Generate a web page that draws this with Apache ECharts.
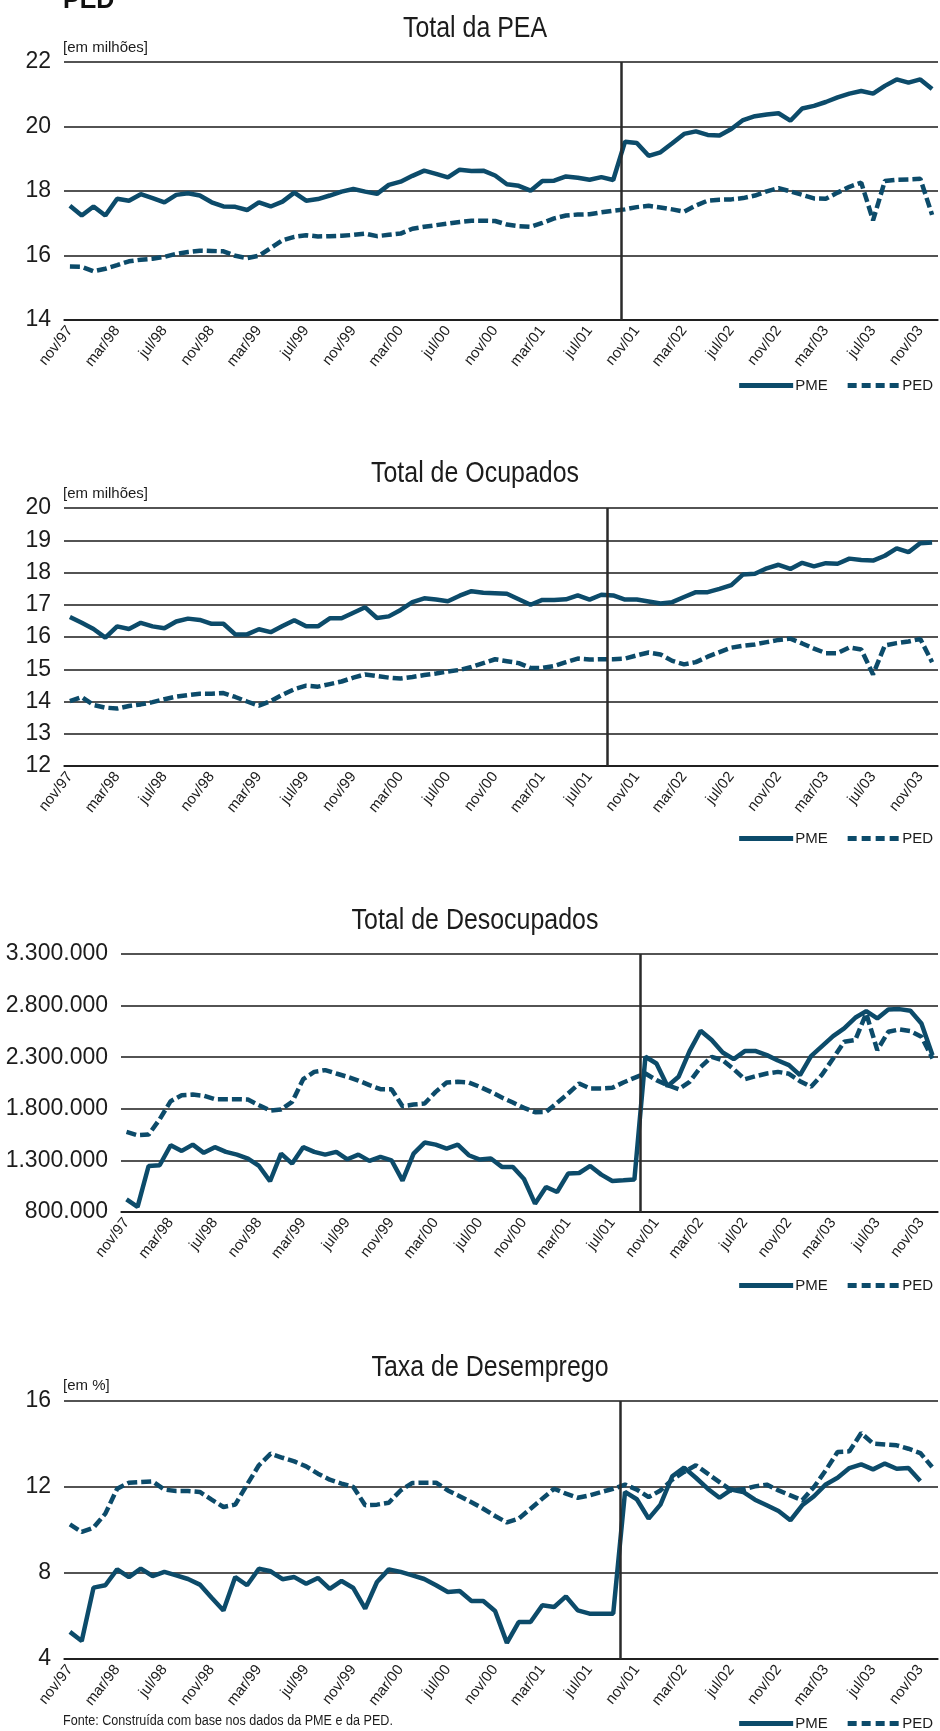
<!DOCTYPE html>
<html>
<head>
<meta charset="utf-8">
<script src="https://cdn.jsdelivr.net/npm/echarts@6/dist/echarts.min.js"></script>
<style>
  html, body { margin: 0; padding: 0; background: #fff; }
  #chart { width: 940px; height: 1731px; }
</style>
</head>
<body>
<div id="chart"></div>
<script>
// meses nov/97 .. dez/03
var meses = [
  'nov/97','dez/97','jan/98','fev/98','mar/98','abr/98','mai/98','jun/98','jul/98','ago/98','set/98','out/98',
  'nov/98','dez/98','jan/99','fev/99','mar/99','abr/99','mai/99','jun/99','jul/99','ago/99','set/99','out/99',
  'nov/99','dez/99','jan/00','fev/00','mar/00','abr/00','mai/00','jun/00','jul/00','ago/00','set/00','out/00',
  'nov/00','dez/00','jan/01','fev/01','mar/01','abr/01','mai/01','jun/01','jul/01','ago/01','set/01','out/01',
  'nov/01','dez/01','jan/02','fev/02','mar/02','abr/02','mai/02','jun/02','jul/02','ago/02','set/02','out/02',
  'nov/02','dez/02','jan/03','fev/03','mar/03','abr/03','mai/03','jun/03','jul/03','ago/03','set/03','out/03',
  'nov/03','dez/03'
];

// Total da PEA (milhões)
var peaPME = [
  17.54, 17.24, 17.52, 17.24, 17.76, 17.70, 17.90, 17.78, 17.65, 17.88,
  17.93, 17.86, 17.65, 17.52, 17.51, 17.41, 17.65, 17.52, 17.67, 17.95,
  17.70, 17.75, 17.86, 17.98, 18.06, 17.98, 17.91, 18.19, 18.29, 18.47,
  18.63, 18.53, 18.42, 18.66, 18.62, 18.63, 18.48, 18.21, 18.16, 18.01,
  18.31, 18.32, 18.45, 18.41, 18.35, 18.43, 18.34, 19.53, 19.49, 19.09,
  19.20, 19.48, 19.77, 19.85, 19.74, 19.72, 19.92, 20.20, 20.32, 20.37,
  20.41, 20.18, 20.56, 20.64, 20.76, 20.90, 21.02, 21.10, 21.02, 21.26,
  21.46, 21.36, 21.46, 21.16
];
var peaPED = [
  15.66, 15.65, 15.51, 15.59, 15.70, 15.82, 15.87, 15.90, 15.96, 16.05,
  16.11, 16.15, 16.14, 16.13, 15.99, 15.92, 15.99, 16.23, 16.47, 16.58,
  16.63, 16.59, 16.60, 16.61, 16.64, 16.68, 16.60, 16.64, 16.68, 16.83,
  16.89, 16.94, 16.99, 17.04, 17.08, 17.08, 17.07, 16.96, 16.91, 16.89,
  17.01, 17.15, 17.24, 17.27, 17.28, 17.34, 17.39, 17.43, 17.50, 17.54,
  17.49, 17.43, 17.36, 17.55, 17.70, 17.73, 17.74, 17.78, 17.86, 17.99,
  18.09, 17.99, 17.88, 17.77, 17.76, 17.95, 18.13, 18.26, 17.09, 18.31,
  18.35, 18.36, 18.38, 17.26
];

// Total de Ocupados (milhões)
var ocupPME = [
  16.62, 16.44, 16.25, 15.98, 16.33, 16.25, 16.44, 16.33, 16.27, 16.48,
  16.57, 16.53, 16.41, 16.41, 16.08, 16.08, 16.24, 16.15, 16.34, 16.52,
  16.33, 16.33, 16.58, 16.58, 16.75, 16.92, 16.59, 16.64, 16.84, 17.08,
  17.20, 17.16, 17.11, 17.28, 17.42, 17.37, 17.36, 17.34, 17.17, 17.00,
  17.15, 17.15, 17.17, 17.29, 17.16, 17.31, 17.29, 17.16, 17.16, 17.10,
  17.04, 17.08, 17.24, 17.39, 17.39, 17.49, 17.61, 17.94, 17.96, 18.13,
  18.24, 18.11, 18.30, 18.19, 18.29, 18.27, 18.43, 18.39, 18.37, 18.52,
  18.75, 18.63, 18.91, 18.93
];
var ocupPED = [
  14.01, 14.14, 13.89, 13.81, 13.78, 13.86, 13.91, 13.98, 14.07, 14.15,
  14.20, 14.24, 14.24, 14.26, 14.14, 14.00, 13.87, 14.01, 14.21, 14.38,
  14.49, 14.46, 14.54, 14.62, 14.74, 14.84, 14.79, 14.74, 14.71, 14.76,
  14.82, 14.87, 14.93, 14.98, 15.07, 15.19, 15.31, 15.25, 15.19, 15.04,
  15.04, 15.10, 15.22, 15.33, 15.30, 15.31, 15.31, 15.33, 15.43, 15.52,
  15.46, 15.26, 15.15, 15.22, 15.39, 15.53, 15.67, 15.73, 15.77, 15.84,
  15.91, 15.95, 15.80, 15.64, 15.50, 15.50, 15.68, 15.61, 14.84, 15.74,
  15.81, 15.86, 15.94, 15.22
];

// Total de Desocupados
var desocPME = [
  923000, 849000, 1246000, 1253000, 1447000, 1392000, 1453000, 1373000, 1428000, 1382000,
  1356000, 1318000, 1246000, 1098000, 1366000, 1269000, 1428000, 1382000, 1356000, 1382000,
  1311000, 1356000, 1295000, 1334000, 1301000, 1104000, 1366000, 1473000, 1453000, 1415000,
  1453000, 1350000, 1308000, 1318000, 1237000, 1237000, 1120000, 881000, 1043000, 994000,
  1172000, 1178000, 1246000, 1162000, 1101000, 1107000, 1114000, 2304000, 2239000, 2019000,
  2110000, 2359000, 2556000, 2466000, 2346000, 2281000, 2359000, 2359000, 2320000, 2268000,
  2223000, 2126000, 2310000, 2407000, 2504000, 2579000, 2682000, 2747000, 2676000, 2763000,
  2766000, 2750000, 2627000, 2320000
];
var desocPED = [
  1576000, 1544000, 1550000, 1699000, 1874000, 1932000, 1938000, 1926000, 1893000, 1893000,
  1893000, 1890000, 1835000, 1783000, 1793000, 1867000, 2087000, 2158000, 2175000, 2142000,
  2110000, 2074000, 2029000, 1990000, 1990000, 1825000, 1841000, 1851000, 1964000, 2055000,
  2061000, 2055000, 2013000, 1964000, 1909000, 1861000, 1809000, 1767000, 1770000, 1858000,
  1948000, 2045000, 1997000, 1997000, 2003000, 2055000, 2100000, 2142000, 2078000, 2029000,
  1990000, 2061000, 2204000, 2304000, 2271000, 2184000, 2087000, 2116000, 2142000, 2158000,
  2139000, 2068000, 2013000, 2132000, 2288000, 2449000, 2466000, 2724000, 2369000, 2546000,
  2569000, 2553000, 2498000, 2288000
];

// Taxa de Desemprego (%)
var taxaPME = [
  5.26, 4.84, 7.32, 7.43, 8.17, 7.81, 8.20, 7.86, 8.05, 7.89,
  7.72, 7.46, 6.85, 6.26, 7.81, 7.43, 8.20, 8.08, 7.71, 7.81,
  7.50, 7.77, 7.26, 7.63, 7.30, 6.34, 7.58, 8.17, 8.05, 7.89,
  7.72, 7.43, 7.12, 7.16, 6.70, 6.70, 6.23, 4.75, 5.72, 5.72,
  6.50, 6.42, 6.91, 6.26, 6.11, 6.11, 6.11, 11.77, 11.43, 10.53,
  11.18, 12.50, 12.90, 12.43, 11.92, 11.50, 11.88, 11.77, 11.41, 11.15,
  10.88, 10.45, 11.15, 11.57, 12.12, 12.43, 12.88, 13.05, 12.82, 13.09,
  12.85, 12.88, 12.28, null
];
var taxaPED = [
  10.26, 9.91, 10.11, 10.76, 11.92, 12.20, 12.23, 12.26, 11.88, 11.81,
  11.81, 11.77, 11.41, 11.07, 11.18, 12.11, 13.01, 13.55, 13.36, 13.19,
  12.96, 12.62, 12.34, 12.16, 12.00, 11.15, 11.18, 11.27, 11.84, 12.19,
  12.20, 12.20, 11.84, 11.57, 11.29, 10.99, 10.65, 10.35, 10.53, 10.99,
  11.46, 11.92, 11.69, 11.50, 11.61, 11.77, 11.92, 12.11, 11.88, 11.53,
  11.84, 12.34, 12.70, 13.01, 12.62, 12.23, 11.84, 11.89, 12.03, 12.11,
  11.84, 11.61, 11.38, 12.00, 12.78, 13.63, 13.66, 14.51, 14.02, 13.98,
  13.94, 13.78, 13.58, 12.93
];

// mudanca de metodologia da PME (em meses desde nov/97)
var quebraPME = [47.18, 45.99, 47.03, 47.06];

var fonte = '"Liberation Sans", Arial, sans-serif';
var corLinha = '#0c4b6a';
var corTexto = '#1c1c1c';

// icones da legenda: barra cheia e tracejado
var iconePME = 'path://M0,0H54V5H0Z';
var iconePED = 'path://M0,0H9V5H0Z M14,0H23V5H14Z M28,0H37V5H28Z M42,0H51V5H42Z';

function milhar(v) {
  return String(v).replace(/\B(?=(\d{3})+(?!\d))/g, '.');
}

var paineis = [
  { titulo: 'Total da PEA', unidade: '[em milhões]', pme: peaPME, ped: peaPED, min: 14, max: 22, passo: 2, cada: 1,
    grid: { left: 64, right: 2, top: 62, height: 258 }, tituloX: 475, tituloY: 29, unidadeY: 48, legendaY: 373 },
  { titulo: 'Total de Ocupados', unidade: '[em milhões]', pme: ocupPME, ped: ocupPED, min: 12, max: 20, passo: 1, cada: 1,
    grid: { left: 64, right: 2, top: 508, height: 258 }, tituloX: 475, tituloY: 474, unidadeY: 494, legendaY: 826 },
  { titulo: 'Total de Desocupados', unidade: '', pme: desocPME, ped: desocPED, min: 800000, max: 3300000, passo: 100000, cada: 5,
    grid: { left: 121, right: 2, top: 954, height: 258 }, tituloX: 475, tituloY: 921, unidadeY: 0, legendaY: 1273 },
  { titulo: 'Taxa de Desemprego', unidade: '[em %]', pme: taxaPME, ped: taxaPED, min: 4, max: 16, passo: 4, cada: 1,
    grid: { left: 64, right: 2, top: 1401, height: 258 }, tituloX: 490, tituloY: 1368, unidadeY: 1386, legendaY: 1711 }
];

var grids = [], xAxes = [], yAxes = [], series = [], legends = [], graficos = [];

paineis.forEach(function (p, k) {
  grids.push(p.grid);

  xAxes.push({
    type: 'category', gridIndex: k, data: meses, boundaryGap: true,
    axisLine: { lineStyle: { color: '#111', width: 1.5 } },
    axisTick: { inside: true, length: 10, interval: 3, lineStyle: { color: '#111', width: 1.5 } },
    axisLabel: { interval: 3, rotate: 52, margin: 8, fontSize: 15, color: corTexto, fontFamily: fonte },
    splitLine: { show: false }
  });

  // com passo menor que o da grade, so uma linha a cada "cada" fica visivel
  var cores = ['#1a1a1a'];
  for (var c = 1; c < p.cada; c++) cores.push('rgba(0,0,0,0)');
  yAxes.push({
    type: 'value', gridIndex: k, min: p.min, max: p.max, interval: p.passo,
    axisLine: { show: false }, axisTick: { show: false },
    axisLabel: {
      margin: 13, fontSize: 23, color: corTexto, fontFamily: fonte,
      formatter: function (v) {
        if (Math.round((v - p.min) / p.passo) % p.cada !== 0) return '';
        return v >= 1000 ? milhar(v) : String(v);
      }
    },
    splitLine: { lineStyle: { color: cores, width: 1.5 } }
  });

  series.push({
    name: 'PME', type: 'line', xAxisIndex: k, yAxisIndex: k, data: p.pme,
    showSymbol: false, symbol: 'none',
    lineStyle: { color: corLinha, width: 4.5 }, itemStyle: { color: corLinha },
    z: 3
  });
  series.push({
    name: 'PED', type: 'line', xAxisIndex: k, yAxisIndex: k, data: p.ped,
    showSymbol: false, symbol: 'none',
    lineStyle: { color: corLinha, width: 4.5, type: [10, 4] }, itemStyle: { color: corLinha },
    z: 3
  });

  legends.push({
    data: [{ name: 'PME', icon: iconePME }, { name: 'PED', icon: iconePED }],
    top: p.legendaY, right: 2,
    itemWidth: 54, itemHeight: 5, itemGap: 20,
    itemStyle: { color: corLinha },
    textStyle: { fontSize: 15, color: corTexto, fontFamily: fonte, padding: [0, 0, 0, -3] },
    selectedMode: false
  });

  graficos.push({
    type: 'text', x: p.tituloX, y: p.tituloY, scaleX: 0.86,
    style: { text: p.titulo, font: '29px ' + fonte, fill: corTexto, align: 'center', verticalAlign: 'middle' }
  });
  if (p.unidade) {
    graficos.push({
      type: 'text', x: 63, y: p.unidadeY,
      style: { text: p.unidade, font: '15px ' + fonte, fill: corTexto, align: 'left', verticalAlign: 'middle' }
    });
  }
});

// eixos auxiliares (escala continua em meses) so para a linha de quebra
paineis.forEach(function (p, k) {
  xAxes.push({ type: 'value', gridIndex: k, min: 0, max: meses.length, show: false });
  series.push({
    type: 'line', xAxisIndex: paineis.length + k, yAxisIndex: k, data: [], silent: true,
    markLine: {
      silent: true, symbol: 'none', animation: false,
      label: { show: false },
      lineStyle: { color: '#2a2a2a', width: 2.5, type: 'solid' },
      data: [{ xAxis: quebraPME[k] }]
    },
    z: 4
  });
});

graficos.push({
  type: 'text', x: 63, y: 1,
  style: { text: 'PED', font: 'bold 25px ' + fonte, fill: '#111', align: 'left', verticalAlign: 'middle' }
});
graficos.push({
  type: 'text', x: 63, y: 1721, scaleX: 0.9,
  style: { text: 'Fonte: Construída com base nos dados da PME e da PED.', font: '14px ' + fonte, fill: corTexto, align: 'left', verticalAlign: 'middle' }
});

var myChart = echarts.init(document.getElementById('chart'), null, { renderer: 'canvas' });
myChart.setOption({
  animation: false,
  backgroundColor: '#fff',
  textStyle: { fontFamily: fonte },
  grid: grids,
  xAxis: xAxes,
  yAxis: yAxes,
  legend: legends,
  graphic: graficos,
  series: series
});
</script>
</body>
</html>
